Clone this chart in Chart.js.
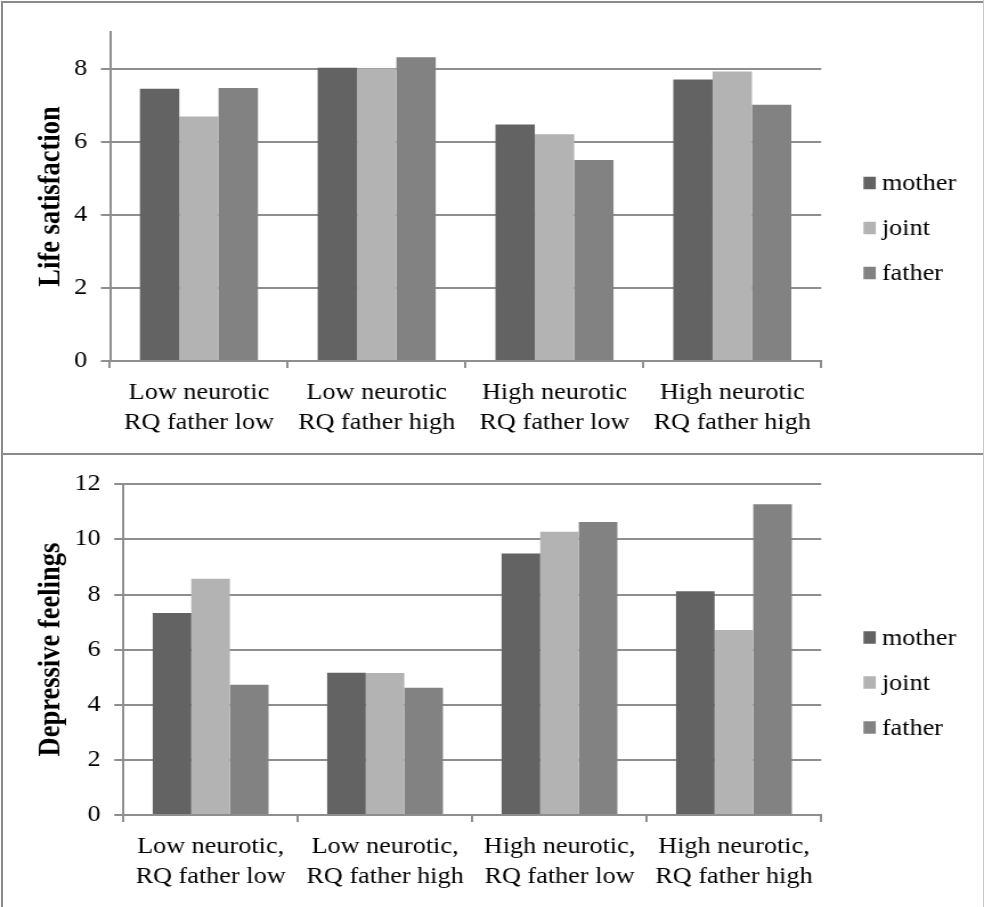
<!DOCTYPE html>
<html>
<head>
<meta charset="utf-8">
<script src="https://cdn.jsdelivr.net/npm/chart.js@4.4.1/dist/chart.umd.min.js"></script>
<style>
  html, body { margin: 0; padding: 0; background: #fff; }
  #page { position: relative; width: 984px; height: 907px; overflow: hidden; background: #fff; }
  .panel { position: absolute; left: 0; transform: scaleX(1.1402); transform-origin: 0 0; }
  .rule { position: absolute; background: #8a8a8a; }
</style>
</head>
<body>
<div id="page">
  <canvas id="lifeChart" class="panel" width="863" height="453" style="top:0px"></canvas>
  <canvas id="depChart" class="panel" width="863" height="452" style="top:455px"></canvas>
  <div class="rule" style="left:1px;top:1px;width:983px;height:2px"></div>
  <div class="rule" style="left:1px;top:1px;width:2px;height:906px"></div>
  <div class="rule" style="left:1px;top:453px;width:983px;height:2px"></div>
  <div class="rule" style="left:983px;top:0px;width:1px;height:907px;background:#c8c8c8"></div>
</div>
<script>
// Series shared by both panels
const seriesNames = ['mother', 'joint', 'father'];
const seriesColors = ['#636363', '#b3b3b3', '#828282'];

// Upper panel: life satisfaction
const lifeCategories = [
  ['Low neurotic', 'RQ father low'],
  ['Low neurotic', 'RQ father high'],
  ['High neurotic', 'RQ father low'],
  ['High neurotic', 'RQ father high']
];
const lifeMother = [7.45, 8.02, 6.47, 7.70];
const lifeJoint  = [6.69, 8.00, 6.20, 7.92];
const lifeFather = [7.47, 8.31, 5.50, 7.01];
const lifeTicks = [0, 2, 4, 6, 8];
const lifeAxisMax = 9;

// Lower panel: depressive feelings
const depCategories = [
  ['Low neurotic,', 'RQ father low'],
  ['Low neurotic,', 'RQ father high'],
  ['High neurotic,', 'RQ father low'],
  ['High neurotic,', 'RQ father high']
];
const depMother = [7.33, 5.16, 9.49, 8.12];
const depJoint  = [8.57, 5.15, 10.28, 6.71];
const depFather = [4.73, 4.62, 10.63, 11.28];
const depTicks = [0, 2, 4, 6, 8, 10, 12];
const depAxisMax = 12;

const FONT = 'Liberation Serif, Times New Roman, serif';
const LINE = '#8e8e8e';

// Legend drawn as a column of swatches to the right of the plot area
const sideLegend = {
  id: 'sideLegend',
  afterDraw(chart, args, opts) {
    const ctx = chart.ctx;
    const sets = chart.data.datasets;
    const n = sets.length;
    const cy = chart.height / 2 + opts.shiftY;
    const x0 = chart.chartArea.right + opts.offsetX;
    ctx.save();
    ctx.font = '23px ' + FONT;
    ctx.textBaseline = 'middle';
    ctx.textAlign = 'left';
    sets.forEach((ds, i) => {
      const y = cy + (i - (n - 1) / 2) * opts.rowGap;
      ctx.fillStyle = ds.backgroundColor;
      ctx.fillRect(x0, y - opts.boxH / 2, opts.boxW, opts.boxH);
      ctx.fillStyle = '#000';
      ctx.fillText(ds.label, x0 + opts.boxW + opts.gap, y + 1);
    });
    ctx.restore();
  }
};

function makeDatasets(values) {
  return values.map((v, i) => ({
    label: seriesNames[i],
    data: v,
    backgroundColor: seriesColors[i],
    borderWidth: 0,
    categoryPercentage: 0.664,
    barPercentage: 1.0
  }));
}

function makeOptions(cfg) {
  return {
    responsive: false,
    animation: false,
    devicePixelRatio: 1,
    layout: { padding: { left: 25.7, right: 142.8, top: cfg.padTop, bottom: cfg.padBottom } },
    plugins: {
      legend: { display: false },
      tooltip: { enabled: false },
      sideLegend: { offsetX: 37.1, boxW: 10.8, boxH: 12.5, gap: 5.3, rowGap: 45, shiftY: 1.5 }
    },
    scales: {
      x: {
        offset: true,
        afterFit: (s) => { s.height = 80; },
        grid: { display: true, drawOnChartArea: false, drawTicks: true, tickLength: 7, color: LINE, lineWidth: 2, offset: true },
        border: { display: true, color: LINE, width: 2 },
        ticks: { color: '#000', padding: 10, maxRotation: 0, autoSkip: false, font: { family: FONT, size: 23, lineHeight: 1.3 } }
      },
      y: {
        min: 0,
        max: cfg.max,
        bounds: 'data',
        afterBuildTicks: (s) => { s.ticks = cfg.ticks.map(v => ({ value: v })); },
        afterFit: (s) => { s.width = cfg.yWidth; },
        grid: { color: LINE, lineWidth: 2, drawTicks: true, tickLength: 8 },
        border: { display: true, color: LINE, width: 2 },
        ticks: { padding: 12, color: '#000', font: { family: FONT, size: 23 } },
        title: { display: true, text: cfg.title, color: '#000', padding: { top: 4, bottom: 4 }, font: { family: FONT, size: 26.5, weight: 'bold' } }
      }
    }
  };
}

new Chart(document.getElementById('lifeChart'), {
  type: 'bar',
  data: { labels: lifeCategories, datasets: makeDatasets([lifeMother, lifeJoint, lifeFather]) },
  options: makeOptions({ max: lifeAxisMax, ticks: lifeTicks, yWidth: 70.8, title: 'Life satisfaction', padTop: 32, padBottom: 12 }),
  plugins: [sideLegend]
});

new Chart(document.getElementById('depChart'), {
  type: 'bar',
  data: { labels: depCategories, datasets: makeDatasets([depMother, depJoint, depFather]) },
  options: makeOptions({ max: depAxisMax, ticks: depTicks, yWidth: 82.5, title: 'Depressive feelings', padTop: 29.3, padBottom: 12 }),
  plugins: [sideLegend]
});
</script>
</body>
</html>
